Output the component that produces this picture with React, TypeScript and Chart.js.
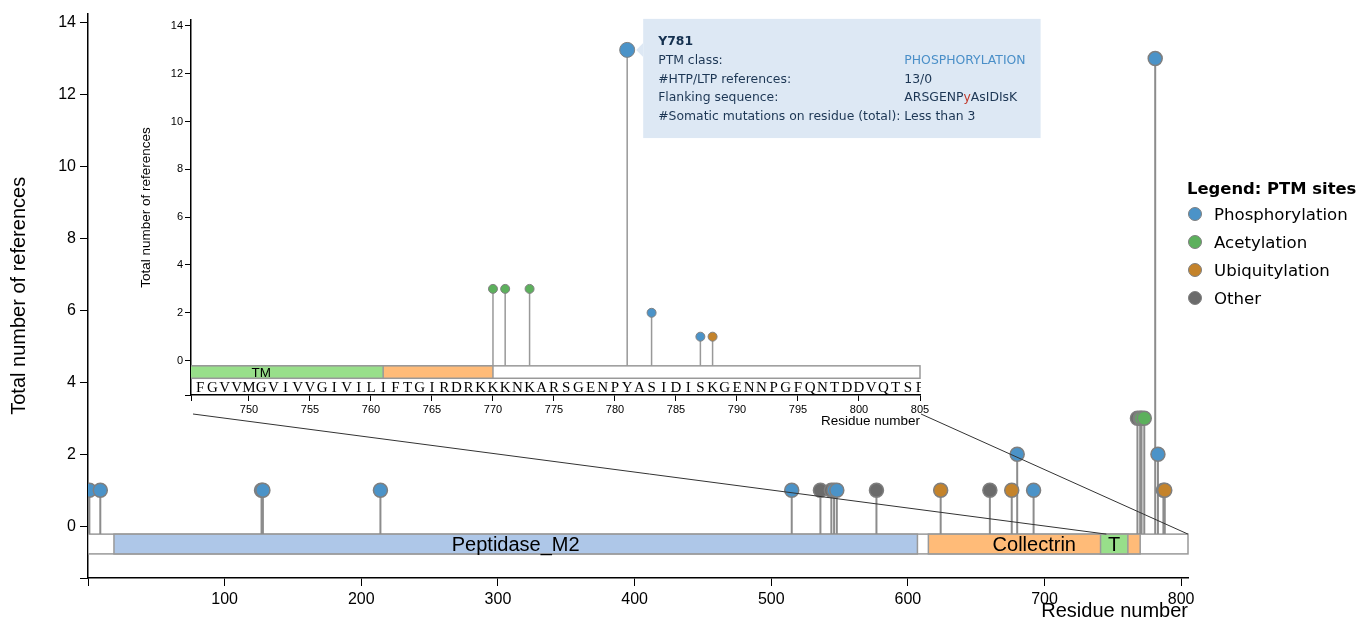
import React, { useEffect, useRef } from 'react';
import { Chart, registerables } from 'chart.js';

Chart.register(...registerables);

// ---------------- data ----------------
const PROTEIN_LENGTH = 805;

// [residue, total number of references]
const phosphorylation: number[][] = [[1, 1], [9, 1], [127, 1], [128, 1], [214, 1], [515, 1], [546, 1], [548, 1], [680, 2], [692, 1], [781, 13], [783, 2], [787, 1]];
const acetylation: number[][] = [[770, 3], [771, 3], [773, 3]];
const ubiquitylation: number[][] = [[624, 1], [676, 1], [788, 1]];
const other: number[][] = [[536, 1], [544, 1], [577, 1], [660, 1], [768, 3]];

const domainNames = ['Peptidase_M2', 'Collectrin', 'TM'];
const domainStarts = [19, 615, 741];
const domainEnds = [607, 770, 761];
const domainColors = ['#aec7e8', '#ffbb78', '#98df8a'];

const sequence = 'FGVVMGVIVVGIVILIFTGIRDRKKKNKARSGENPYASIDISKGENNPGFQNTDDVQTSF';
const sequenceStart = 746;

const mainXTicks = [0, 100, 200, 300, 400, 500, 600, 700, 800];
const yTicks = [0, 2, 4, 6, 8, 10, 12, 14];
const insetXTicks = [750, 755, 760, 765, 770, 775, 780, 785, 790, 795, 800, 805];
const insetRange = [745.25, 805];
const yRange = [-1.44, 14.25];

const tooltipResidue = 781;
const tooltipTitle = 'Y781';
const tooltipLabels = ['PTM class:', '#HTP/LTP references:', 'Flanking sequence:', '#Somatic mutations on residue (total):'];
const tooltipValues = ['PHOSPHORYLATION', '13/0', 'ARSGENPyAsIDIsK', 'Less than 3'];

// ---------------- styles ----------------
const SANS = "'Liberation Sans', Arial, Helvetica, sans-serif";
const VERDANA = "'DejaVu Sans', Verdana, sans-serif";
const SERIF = "'Liberation Serif', 'Times New Roman', serif";

const classes = [
  { name: 'Phosphorylation', color: '#4b93c8', data: phosphorylation, order: 1 },
  { name: 'Acetylation', color: '#5cb05c', data: acetylation, order: 2 },
  { name: 'Ubiquitylation', color: '#c4832b', data: ubiquitylation, order: 0 },
  { name: 'Other', color: '#6b6b6b', data: other, order: 3 },
];
const insetClasses = ['Phosphorylation', 'Acetylation', 'Ubiquitylation'];

const INSET = { left: 130, top: 0, width: 930, height: 430 };
const MAIN_BAR = [-0.22, -0.77];
const INSET_BAR = [-0.22, -0.74];
const TIP_FONT = 12.4;

function domainPlugin(bar: number[], fontSize: number, withSequence: boolean) {
  return {
    id: 'domains',
    beforeDatasetsDraw(chart: any) {
      const { ctx, chartArea: a, scales } = chart;
      const x = scales.x, y = scales.y;
      ctx.save();
      ctx.beginPath();
      ctx.rect(a.left, a.top - 1, a.right - a.left + 1, a.bottom - a.top);
      ctx.clip();
      const yt = y.getPixelForValue(bar[0]);
      const yb = y.getPixelForValue(bar[1]);
      const box = (s: number, e: number, fill: string) => {
        const x0 = x.getPixelForValue(s), x1 = x.getPixelForValue(e);
        ctx.fillStyle = fill;
        ctx.fillRect(x0, yt, x1 - x0, yb - yt);
        ctx.strokeStyle = '#999';
        ctx.lineWidth = 1.5;
        ctx.strokeRect(x0, yt, x1 - x0, yb - yt);
      };
      box(0, PROTEIN_LENGTH, '#ffffff');
      domainNames.forEach((_, i) => box(domainStarts[i], domainEnds[i], domainColors[i]));
      ctx.fillStyle = '#000';
      ctx.font = `${fontSize}px ${SANS}`;
      ctx.textAlign = 'center';
      ctx.textBaseline = 'middle';
      domainNames.forEach((n, i) => {
        const x0 = x.getPixelForValue(domainStarts[i]), x1 = x.getPixelForValue(domainEnds[i]);
        let t = n;
        while (t.length && ctx.measureText(t).width > x1 - x0 - 4) t = t.slice(0, -1);
        ctx.fillText(t, (x0 + x1) / 2, (yt + yb) / 2 + 1);
      });
      if (withSequence) {
        ctx.font = `15px ${SERIF}`;
        const ly = y.getPixelForValue(-1.15);
        for (let i = 0; i < sequence.length; i++) {
          ctx.fillText(sequence[i], x.getPixelForValue(sequenceStart + i), ly);
        }
      }
      ctx.restore();
    },
  };
}

function stemData(list: number[][][], base: number) {
  const out: any[] = [];
  list.forEach((arr) => arr.forEach(([r, v]) => {
    out.push({ x: r, y: base }, { x: r, y: v }, { x: r, y: null });
  }));
  return out;
}

function scalesFor(opts: any) {
  const { xMin, xMax, xTicks, yW, xH, tickFont, tickLen, titleFont, xTitlePad, yTitlePad, tickPad, borderW } = opts;
  return {
    x: {
      type: 'linear', min: xMin, max: xMax,
      afterBuildTicks: (s: any) => { s.ticks = [xMin, ...xTicks].filter((v, i, arr) => arr.indexOf(v) === i).map((v: number) => ({ value: v })); },
      afterFit: (s: any) => { s.height = xH; },
      ticks: {
        autoSkip: false, maxRotation: 0, padding: tickPad, color: '#000',
        font: { family: SANS, size: tickFont },
        callback: (v: number) => (xTicks.includes(v) && v !== 0 ? String(v) : ''),
      },
      grid: { drawOnChartArea: false, drawTicks: true, tickLength: tickLen, color: '#000', lineWidth: 1 },
      border: { display: true, color: '#000', width: borderW },
      title: { display: true, text: 'Residue number', align: 'end', color: '#000', font: { family: SANS, size: titleFont }, padding: { top: xTitlePad, bottom: xTitlePad } },
    },
    y: {
      type: 'linear', min: yRange[0], max: yRange[1],
      afterBuildTicks: (s: any) => { s.ticks = [yRange[0], ...yTicks].map((v) => ({ value: v })); },
      afterFit: (s: any) => { s.width = yW; },
      ticks: {
        autoSkip: false, padding: tickPad, color: '#000',
        font: { family: SANS, size: tickFont },
        callback: (v: number) => (yTicks.includes(v) ? String(v) : ''),
      },
      grid: { drawOnChartArea: false, drawTicks: true, tickLength: tickLen, color: '#000', lineWidth: 1 },
      border: { display: true, color: '#000', width: borderW },
      title: { display: true, text: 'Total number of references', color: '#000', font: { family: SANS, size: titleFont }, padding: { top: yTitlePad, bottom: yTitlePad } },
    },
  };
}

const tooltipPlugin = {
  id: 'siteTooltip',
  afterDraw(chart: any) {
    const { ctx, scales } = chart;
    const site = phosphorylation.find((p) => p[0] === tooltipResidue)!;
    const px = scales.x.getPixelForValue(site[0]);
    const py = scales.y.getPixelForValue(site[1]);
    ctx.save();
    ctx.font = `${TIP_FONT}px ${VERDANA}`;
    const labelW = Math.max(...tooltipLabels.map((l) => ctx.measureText(l + ' ').width));
    const valueW = Math.max(...tooltipValues.map((v) => ctx.measureText(v).width));
    const pad = 15;
    const left = px + 16;
    const top = py - 31;
    const lineH = 18.8;
    const w = pad * 2 + labelW + valueW;
    const h = 23 + lineH * 4 + 21;
    ctx.fillStyle = '#dde8f4';
    ctx.fillRect(left, top, w, h);
    ctx.beginPath();
    ctx.moveTo(left, py - 7);
    ctx.lineTo(left - 7, py);
    ctx.lineTo(left, py + 7);
    ctx.closePath();
    ctx.fill();
    ctx.textBaseline = 'middle';
    ctx.textAlign = 'left';
    const tx = left + pad;
    ctx.font = `bold ${TIP_FONT}px ${VERDANA}`;
    ctx.fillStyle = '#14304f';
    ctx.fillText(tooltipTitle, tx, top + 23);
    ctx.font = `${TIP_FONT}px ${VERDANA}`;
    tooltipLabels.forEach((l, i) => {
      const ly = top + 23 + lineH * (i + 1);
      ctx.fillStyle = '#1c3654';
      ctx.fillText(l, tx, ly);
      const v = tooltipValues[i];
      const vx = tx + labelW;
      if (i === 0) {
        ctx.fillStyle = '#4a8fc8';
        ctx.fillText(v, vx, ly);
      } else if (i === 2) {
        const mid = Math.floor(v.length / 2);
        const a = v.slice(0, mid), b = v[mid], c = v.slice(mid + 1);
        ctx.fillText(a, vx, ly);
        const aw = ctx.measureText(a).width;
        ctx.fillStyle = '#c0392b';
        ctx.fillText(b, vx + aw, ly);
        ctx.fillStyle = '#1c3654';
        ctx.fillText(c, vx + aw + ctx.measureText(b).width, ly);
      } else {
        ctx.fillText(v, vx, ly);
      }
    });
    ctx.restore();
  },
};

export default function App() {
  const mainRef = useRef<HTMLCanvasElement>(null);
  const insetRef = useRef<HTMLCanvasElement>(null);

  useEffect(() => {
    // ---------- inset ----------
    const insetSets = classes
      .filter((c) => insetClasses.includes(c.name))
      .map((c) => ({
        label: c.name,
        data: c.data.filter(([r]) => r >= insetRange[0] && r <= insetRange[1]).map(([r, v]) => ({ x: r, y: v })),
        backgroundColor: c.color,
        borderColor: '#808080',
        borderWidth: 1,
        pointRadius: (ctx: any) => (ctx.raw && ctx.raw.x === tooltipResidue ? 7.5 : 4.5),
        order: c.order,
      }));
    const insetStems = {
      label: 'stems',
      data: stemData(classes.filter((c) => insetClasses.includes(c.name)).map((c) => c.data.filter(([r]) => r >= insetRange[0] && r <= insetRange[1])), INSET_BAR[0]),
      showLine: true, spanGaps: false, pointRadius: 0, borderColor: '#999', borderWidth: 1.5, order: 10,
    };
    const inset = new Chart(insetRef.current!, {
      type: 'scatter',
      data: { datasets: [...insetSets, insetStems] as any },
      options: {
        animation: false, responsive: false, events: [],
        layout: { padding: { left: 0, top: 20, right: 140, bottom: 0 } },
        plugins: { legend: { display: false }, tooltip: { enabled: false } },
        scales: scalesFor({ xMin: insetRange[0], xMax: insetRange[1], xTicks: insetXTicks, yW: 61, xH: 35, tickFont: 11, tickLen: 6, titleFont: 13.5, xTitlePad: 1, yTitlePad: 8, tickPad: 2, borderW: 1.5 }) as any,
      },
      plugins: [domainPlugin(INSET_BAR, 13.5, true), tooltipPlugin],
    } as any);

    // ---------- main ----------
    const mainSets = classes.map((c) => ({
      label: c.name,
      data: c.data.map(([r, v]) => ({ x: r, y: v })),
      backgroundColor: c.color,
      borderColor: '#7f7f7f',
      borderWidth: 1.5,
      pointRadius: 7,
      order: c.order,
    }));
    const mainStems = {
      label: 'stems',
      data: stemData(classes.map((c) => c.data), MAIN_BAR[0]),
      showLine: true, spanGaps: false, pointRadius: 0, borderColor: '#8c8c8c', borderWidth: 2, order: 10,
    };
    const zoomLines = {
      id: 'zoomLines',
      afterDraw(chart: any) {
        const { ctx, scales } = chart;
        const ia = inset.chartArea;
        const yb = scales.y.getPixelForValue(MAIN_BAR[0]);
        ctx.save();
        ctx.strokeStyle = '#333';
        ctx.lineWidth = 1;
        ctx.beginPath();
        ctx.moveTo(INSET.left + ia.left + 2, INSET.top + ia.bottom + 19);
        ctx.lineTo(scales.x.getPixelForValue(insetRange[0]), yb);
        ctx.moveTo(INSET.left + ia.right + 1, INSET.top + ia.bottom + 19);
        ctx.lineTo(scales.x.getPixelForValue(insetRange[1]), yb);
        ctx.stroke();
        ctx.restore();
      },
    };
    const main = new Chart(mainRef.current!, {
      type: 'scatter',
      data: { datasets: [...mainSets, mainStems] as any },
      options: {
        animation: false, responsive: false, events: [],
        layout: { padding: { left: 0, top: 10, right: 181, bottom: 0 } },
        plugins: { legend: { display: false }, tooltip: { enabled: false } },
        scales: scalesFor({ xMin: 0, xMax: PROTEIN_LENGTH, xTicks: mainXTicks, yW: 88, xH: 47, tickFont: 16, tickLen: 8, titleFont: 20, xTitlePad: 2, yTitlePad: 7, tickPad: 4, borderW: 1.5 }) as any,
      },
      plugins: [domainPlugin(MAIN_BAR, 20, false), zoomLines],
    } as any);

    return () => {
      main.destroy();
      inset.destroy();
    };
  }, []);

  return (
    <div style={{ position: 'absolute', left: 0, top: 0, width: 1369, height: 625, background: '#fff', overflow: 'hidden' }}>
      <canvas ref={mainRef} width={1369} height={625} style={{ position: 'absolute', left: 0, top: 0, width: 1369, height: 625 }} />
      <canvas ref={insetRef} width={INSET.width} height={INSET.height} style={{ position: 'absolute', left: INSET.left, top: INSET.top, width: INSET.width, height: INSET.height }} />
      <div style={{ position: 'absolute', left: 1187, top: 178, fontFamily: VERDANA, fontSize: 16.6, color: '#000' }}>
        <div style={{ fontWeight: 'bold', lineHeight: '22px', whiteSpace: 'nowrap', fontSize: 16.4 }}>Legend: PTM sites</div>
        {classes.map((c) => (
          <div key={c.name} style={{ display: 'flex', alignItems: 'center', height: 28, whiteSpace: 'nowrap' }}>
            <span style={{ display: 'inline-block', flex: 'none', width: 14, height: 14, borderRadius: '50%', background: c.color, border: '1.5px solid #7f7f7f', boxSizing: 'border-box', marginLeft: 1, marginRight: 12 }} />
            <span>{c.name}</span>
          </div>
        ))}
      </div>
    </div>
  );
}
